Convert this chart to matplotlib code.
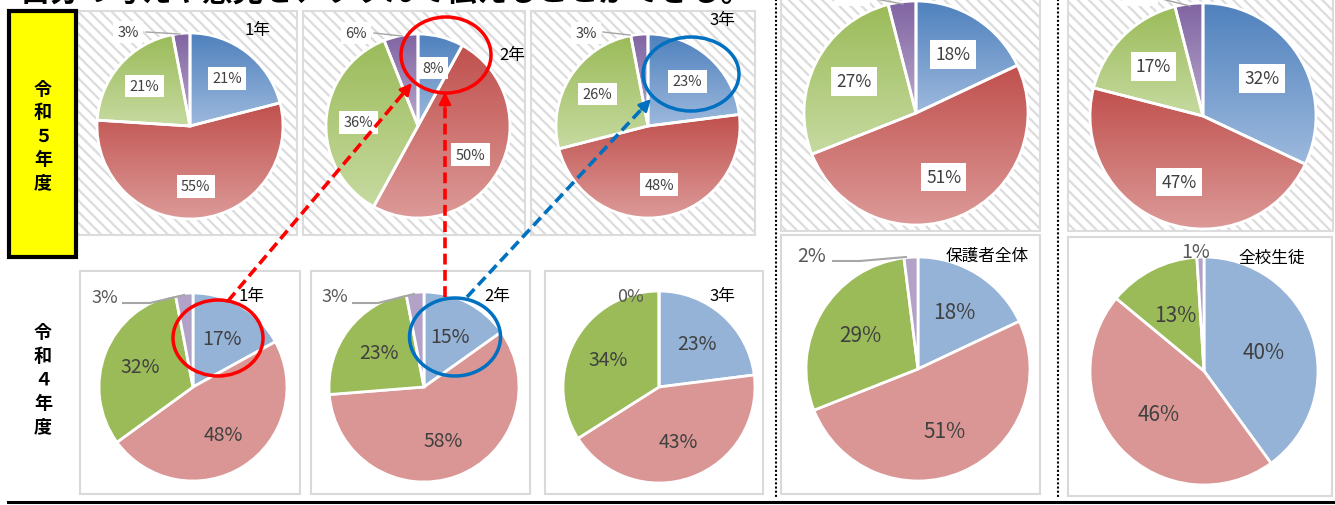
import numpy as np
import matplotlib.pyplot as plt
from matplotlib.patches import Rectangle, Ellipse
from matplotlib.colors import LinearSegmentedColormap

plt.rcParams['font.family'] = ['Noto Sans CJK JP', 'DejaVu Sans']
plt.rcParams['hatch.linewidth'] = 1.6

W, H = 1335, 506

# --- data: 令和5年度 (r5) / 令和4年度 (r4), slices clockwise from 12 o'clock ---
groups = ['1年', '2年', '3年', '保護者全体', '全校生徒']
r5_blue = [21, 8, 23, 18, 32]
r5_red = [55, 50, 48, 51, 47]
r5_green = [21, 36, 26, 27, 17]
r5_purple = [3, 6, 3, 4, 4]
r4_blue = [17, 15, 23, 18, 40]
r4_red = [48, 58, 43, 51, 46]
r4_green = [32, 23, 34, 29, 13]
r4_purple = [3, 3, 0, 2, 1]
row_titles = ['令\n和\n５\n年\n度', '令\n和\n４\n年\n度']
title = '自分の考えや意見を、すすんで伝えることができる。'

# --- layout in pixels (x right, y down) ---
r5_pies = [(190, 127, 93), (418, 127, 92), (648, 127, 92), (916, 114, 112), (1203, 117, 113)]
r4_pies = [(193, 388, 94), (424, 388, 95), (659, 388, 96), (918, 370, 112), (1204, 372, 114)]
r5_panels = [(77, 12, 220, 224), (303, 12, 222, 224), (531, 12, 224, 224),
             (781, -2, 259, 234), (1068, -2, 265, 234)]
r4_panels = [(80, 272, 220, 223), (311, 272, 219, 223), (545, 272, 218, 223),
             (781, 236, 259, 259), (1068, 238, 264, 259)]
r5_name_pos = [(258, 30), (512, 55), (722, 20), None, None]
r4_name_pos = [(252, 297), (497, 297), (722, 297), (987, 256), (1272, 258)]
r5_small = [((128, 33), [(146, 33), (180, 35)]), ((356, 34), [(374, 34), (402, 37)]),
            ((586, 34), [(603, 33), (630, 36)]), ((852, -7), [(870, -1), (903, 5)]),
            ((1140, -7), [(1158, -1), (1190, 7)])]
r4_small = [((105, 298), [(123, 304), (150, 304), (184, 296)]),
            ((335, 297), [(353, 304), (378, 304), (414, 295)]),
            ((630, 297), []),
            ((812, 256), [(833, 262), (860, 262), (906, 258)]),
            ((1196, 253), [])]
r5_fs = [10.5, 10.5, 10.5, 12.5, 12.5]
r4_fs = [14, 14, 14, 15, 15]
r5_dist = [0.65, 0.65, 0.65, 0.62, 0.62]
r4_dist = [0.6, 0.6, 0.6, 0.6, 0.55]

grad_top = ['#4F81BD', '#C0504D', '#9BBB59', '#8064A2']
grad_bot = ['#9DB9DD', '#DC9A98', '#C6DAA0', '#B9A9CC']
flat = ['#95B3D7', '#DA9694', '#9BBB59', '#B3A2C7']
txt_col = '#404040'

fig = plt.figure(figsize=(W / 100, H / 100), dpi=100)
ax0 = fig.add_axes([0, 0, 1, 1], zorder=0)
ax0.set_xlim(0, W)
ax0.set_ylim(H, 0)
ax0.axis('off')
ax2 = fig.add_axes([0, 0, 1, 1], zorder=3)
ax2.set_xlim(0, W)
ax2.set_ylim(H, 0)
ax2.axis('off')


def draw_pie(cx, cy, r, vals, gradient, fs, dist, boxed):
    pad = 1.06
    s = r * pad
    a = fig.add_axes([(cx - s) / W, 1 - (cy + s) / H, 2 * s / W, 2 * s / H], zorder=1)
    wedges, _ = a.pie(vals, colors=flat, startangle=90, counterclock=False,
                      wedgeprops=dict(edgecolor='white', linewidth=2))
    if gradient:
        for w, c0, c1, v in zip(wedges, grad_top, grad_bot, vals):
            if v == 0:
                continue
            ext = w.get_path().get_extents()
            cmap = LinearSegmentedColormap.from_list('g', [c0, c1])
            im = a.imshow(np.linspace(0, 1, 256).reshape(-1, 1), cmap=cmap, origin='upper',
                          extent=(ext.x0, ext.x1, ext.y0, ext.y1), aspect='auto', zorder=0.5)
            im.set_clip_path(w)
            w.set_facecolor('none')
            w.set_zorder(1)
    for w, v in zip(wedges, vals):
        if v < 7:
            continue
        th = np.deg2rad((w.theta1 + w.theta2) / 2)
        box = dict(boxstyle='square,pad=0.3', fc='white', ec='none') if boxed else None
        a.text(dist * np.cos(th), dist * np.sin(th), f'{v}%', ha='center', va='center',
               fontsize=fs, color=txt_col, bbox=box, zorder=2)
    a.set_xlim(-pad, pad)
    a.set_ylim(-pad, pad)
    a.set_aspect('equal')
    a.axis('off')


# title (only its lower edge shows at the top of the picture)
ax0.text(20, -7, title, fontsize=22, fontweight='bold', ha='left', va='center', color='black')

# panels
for (x, y, w, h) in r5_panels:
    ax0.add_patch(Rectangle((x, y), w, h, fc='white', ec='#DCDCDC', lw=1.5, hatch='\\\\\\'))
for (x, y, w, h) in r4_panels:
    ax0.add_patch(Rectangle((x, y), w, h, fc='white', ec='#D9D9D9', lw=1.5))

# row titles
ax0.add_patch(Rectangle((9, 12), 67, 246, fc='#FFFF00', ec='black', lw=3))
ax0.text(43, 136, row_titles[0], ha='center', va='center', fontsize=13, fontweight='bold',
         linespacing=1.3)
ax0.text(43, 380, row_titles[1], ha='center', va='center', fontsize=13, fontweight='bold',
         linespacing=1.3)

# separators
for xs in (776, 1058):
    ax0.plot([xs, xs], [0, 500], color='black', lw=1.5, dashes=(1, 1))
ax0.plot([8, W], [503, 503], color='black', lw=2.2)

# pies
for i in range(len(groups)):
    cx, cy, r = r5_pies[i]
    vals = [r5_blue[i], r5_red[i], r5_green[i], r5_purple[i]]
    draw_pie(cx, cy, r, vals, True, r5_fs[i], r5_dist[i], True)
    (lx, ly), lead = r5_small[i]
    ax2.text(lx, ly, f'{r5_purple[i]}%', ha='center', va='center', fontsize=r5_fs[i],
             color=txt_col, bbox=dict(boxstyle='square,pad=0.3', fc='white', ec='none'))
    if lead:
        ax2.plot([p[0] for p in lead], [p[1] for p in lead], color='#A6A6A6', lw=1)
    if r5_name_pos[i]:
        ax2.text(*r5_name_pos[i], groups[i], ha='center', va='center', fontsize=12, color='black')

    cx, cy, r = r4_pies[i]
    vals = [r4_blue[i], r4_red[i], r4_green[i], r4_purple[i]]
    draw_pie(cx, cy, r, vals, False, r4_fs[i], r4_dist[i], False)
    (lx, ly), lead = r4_small[i]
    ax2.text(lx, ly, f'{r4_purple[i]}%', ha='center', va='center', fontsize=r4_fs[i] - 1,
             color='#595959')
    if lead:
        ax2.plot([p[0] for p in lead], [p[1] for p in lead], color='#A6A6A6', lw=1.5)
    ax2.text(*r4_name_pos[i], groups[i], ha='center', va='center', fontsize=12, color='black')

# highlight ellipses
red, blue = '#FF0000', '#0070C0'
for (ex, ey, ew, eh, c) in [(446, 56, 90, 76, red), (691, 75, 96, 74, blue),
                            (218, 339, 90, 76, red), (455, 338, 91, 78, blue)]:
    ax2.add_patch(Ellipse((ex, ey), ew, eh, fill=False, ec=c, lw=2.5))

# dashed arrows
for (x0, y0, x1, y1, c) in [(228, 302, 412, 84, red), (445, 298, 445, 93, red),
                            (467, 298, 651, 100, blue)]:
    d = np.hypot(x1 - x0, y1 - y0)
    ux, uy = (x1 - x0) / d, (y1 - y0) / d
    ax2.plot([x0, x1 - 10 * ux], [y0, y1 - 10 * uy], color=c, lw=2.6, dashes=(3, 1.5))
    ax2.annotate('', xy=(x1, y1), xytext=(x1 - 14 * ux, y1 - 14 * uy),
                 arrowprops=dict(arrowstyle='-|>,head_length=0.7,head_width=0.35',
                                 color=c, lw=2, shrinkA=0, shrinkB=0))

fig.savefig('out.png', dpi=100)
